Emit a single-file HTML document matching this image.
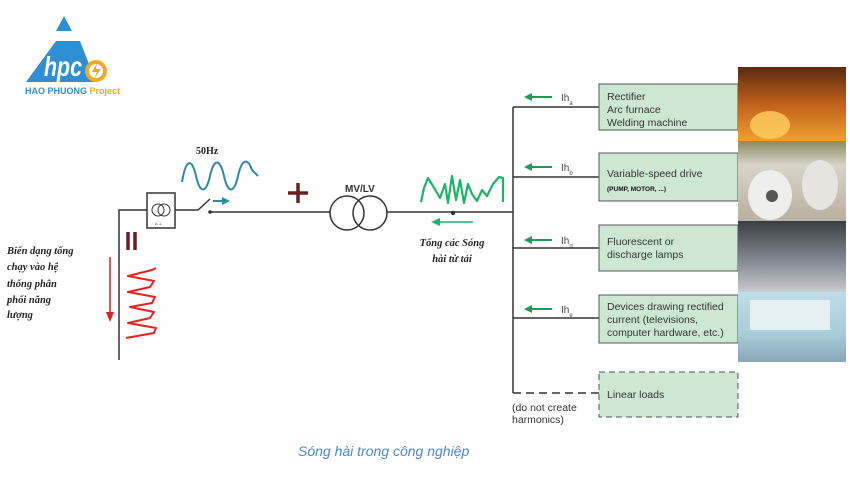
<!DOCTYPE html>
<html><head><meta charset="utf-8"><style>
html,body{margin:0;padding:0;background:#fff;}
svg{display:block;}
</style></head><body>
<svg width="850" height="480" viewBox="0 0 850 480" xmlns="http://www.w3.org/2000/svg" font-family="Liberation Sans, sans-serif">
<!-- Logo -->
<polygon points="64,16 56,31 72,31" fill="#2f8fd5"/>
<polygon points="26,82 56,41 80,41 96,82" fill="#2f8fd5"/>
<text x="44" y="76" font-size="28" font-weight="bold" font-style="italic" fill="#fff" textLength="38" lengthAdjust="spacingAndGlyphs">hpc</text>
<circle cx="96" cy="71" r="11" fill="#f2a91e"/>
<circle cx="96" cy="71" r="7" fill="#fff"/>
<path d="M97,63 L92,72 L97,72 L94,79 L101,69 L96,69 Z" fill="#f2a91e"/>
<text x="25" y="94" font-size="9" font-weight="bold" fill="#2f8fd5">HAO PHUONG <tspan fill="#f2a91e">Project</tspan></text>

<!-- wiring -->
<g stroke="#333" stroke-width="1.5" fill="none">
<path d="M119,360 V210 H147"/>
<rect x="147" y="193" width="28" height="35" stroke-width="1.5"/>
<circle cx="158" cy="210" r="6" stroke-width="1"/>
<circle cx="164" cy="210" r="6" stroke-width="1"/>
<path d="M175,210 H198 L210,199"/>
<path d="M210,212 H330"/>
<circle cx="347" cy="213" r="17"/>
<circle cx="370" cy="213" r="17"/>
<path d="M387,212 H513"/>
<path d="M513,107 V393"/>
<path d="M513,107 H599 M513,177 H599 M513,248 H599 M513,318 H599"/>
<path d="M513,393 H599" stroke-dasharray="8,5"/>
</g>
<circle cx="210" cy="212" r="1.8" fill="#333"/>
<circle cx="453" cy="213" r="2.2" fill="#333"/>
<text x="155" y="225" font-size="4" fill="#333">Δ ⊥</text>

<!-- 50Hz wave -->
<text x="196" y="154" font-size="10" font-weight="bold" font-family="Liberation Serif, serif" fill="#222">50Hz</text>
<path d="M182,182 C186,158 192,158 196,176 C200,194 206,194 210,176 C214,158 220,158 224,176 C228,194 234,194 238,176 C242,158 248,158 252,170 L258,176" stroke="#2a8aa8" stroke-width="2" fill="none"/>
<path d="M213,201 H222" stroke="#2a8aa8" stroke-width="2"/><polygon points="222,197 230,201 222,205" fill="#2a8aa8"/>
<!-- plus -->
<path d="M298,183 V203 M288,193 H308" stroke="#6b2020" stroke-width="3.5"/>
<text x="345" y="192" font-size="10" font-weight="bold" fill="#333">MV/LV</text>
<!-- equals -->
<path d="M128,232 V250 M135,232 V250" stroke="#6b2020" stroke-width="3.5"/>
<!-- red arrow and wave -->
<path d="M110,257 V315" stroke="#e02020" stroke-width="1.5"/><polygon points="106,312 114,312 110,322" fill="#e02020"/>
<path d="M156,268 L152,270 L128,276 L154,281 L150,287 L128,292 L155,297 L152,303 L130,307 L154,312 L150,318 L128,323 L156,328 L154,333 L126,338" stroke="#e82020" stroke-width="2" fill="none" stroke-linejoin="round"/>
<text font-size="10.5" font-weight="bold" font-style="italic" font-family="Liberation Serif, serif" fill="#222">
<tspan x="7" y="254">Biến dạng tổng</tspan><tspan x="7" y="270">chạy vào hệ</tspan><tspan x="7" y="287">thống phân</tspan><tspan x="7" y="303">phối năng</tspan><tspan x="7" y="318">lượng</tspan></text>

<!-- green wave -->
<path d="M421,202 L424,188 L428,178 L433,186 L440,198 L445,184 L448,203 L452,176 L456,200 L460,180 L464,203 L468,184 L472,194 L477,201 L482,190 L487,196 L493,184 L499,177 L503,178 L503,202" stroke="#1db36a" stroke-width="2.2" fill="none" stroke-linejoin="round"/>
<path d="M440,222 H473" stroke="#1db36a" stroke-width="1.5"/><polygon points="440,218 431,222 440,226" fill="#1db36a"/>
<text font-size="10.5" font-weight="bold" font-style="italic" font-family="Liberation Serif, serif" fill="#222" text-anchor="middle">
<tspan x="452" y="246">Tổng các Sóng</tspan><tspan x="452" y="262">hài từ tải</tspan></text>

<!-- Ih arrows -->
<g fill="#1a9a55" stroke="#1a9a55" stroke-width="2">
<path d="M532,97 H552"/><polygon points="532,93 524,97 532,101" stroke="none"/>
<path d="M532,167 H552"/><polygon points="532,163 524,167 532,171" stroke="none"/>
<path d="M532,240 H552"/><polygon points="532,236 524,240 532,244" stroke="none"/>
<path d="M532,309 H552"/><polygon points="532,305 524,309 532,313" stroke="none"/>
</g>
<g font-size="10" fill="#444">
<text x="561" y="101">Ih<tspan font-size="6" dy="4">a</tspan></text>
<text x="561" y="171">Ih<tspan font-size="6" dy="4">b</tspan></text>
<text x="561" y="244">Ih<tspan font-size="6" dy="4">d</tspan></text>
<text x="561" y="313">Ih<tspan font-size="6" dy="4">e</tspan></text>
</g>

<!-- boxes -->
<g fill="#cde8d2" stroke="#555" stroke-width="1">
<rect x="599" y="84" width="139" height="46"/>
<rect x="599" y="153" width="139" height="48"/>
<rect x="599" y="225" width="139" height="46"/>
<rect x="599" y="295" width="139" height="48"/>
<rect x="599" y="372" width="139" height="45" stroke-dasharray="6,4"/>
</g>
<g font-size="10.5" fill="#333">
<text x="607" y="100">Rectifier</text><text x="607" y="113">Arc furnace</text><text x="607" y="126">Welding machine</text>
<text x="607" y="177">Variable-speed drive</text>
<text x="607" y="191" font-size="6.5" font-weight="bold" fill="#111">(PUMP, MOTOR, ...)</text>
<text x="607" y="245">Fluorescent or</text><text x="607" y="258">discharge lamps</text>
<text x="607" y="310">Devices drawing rectified</text><text x="607" y="323">current (televisions,</text><text x="607" y="336">computer hardware, etc.)</text>
<text x="607" y="398">Linear loads</text>
<text x="512" y="411">(do not create</text><text x="512" y="423">harmonics)</text>
</g>

<!-- photos -->
<defs>
<linearGradient id="p1" x1="0" y1="0" x2="0" y2="1"><stop offset="0" stop-color="#5a2a10"/><stop offset="0.5" stop-color="#c0601a"/><stop offset="1" stop-color="#f0a030"/></linearGradient>
<linearGradient id="p2" x1="0" y1="0" x2="0" y2="1"><stop offset="0" stop-color="#8a8a60"/><stop offset="0.3" stop-color="#d8d4c8"/><stop offset="1" stop-color="#b8b0a0"/></linearGradient>
<linearGradient id="p3" x1="0" y1="0" x2="0" y2="1"><stop offset="0" stop-color="#3a3e44"/><stop offset="0.6" stop-color="#8a9098"/><stop offset="1" stop-color="#c8ccd0"/></linearGradient>
<linearGradient id="p4" x1="0" y1="0" x2="0" y2="1"><stop offset="0" stop-color="#c0dde8"/><stop offset="0.6" stop-color="#a8ccd8"/><stop offset="1" stop-color="#8aa8b8"/></linearGradient>
</defs>
<rect x="738" y="67" width="108" height="74" fill="url(#p1)"/>
<ellipse cx="770" cy="125" rx="20" ry="14" fill="#ffd060" opacity="0.8"/>
<rect x="738" y="141" width="108" height="80" fill="url(#p2)"/>
<ellipse cx="770" cy="195" rx="22" ry="25" fill="#eeeeea"/><circle cx="772" cy="196" r="6" fill="#555"/>
<ellipse cx="820" cy="185" rx="18" ry="25" fill="#e6e4de"/>
<rect x="738" y="221" width="108" height="71" fill="url(#p3)"/>
<rect x="738" y="292" width="108" height="70" fill="url(#p4)"/>
<rect x="750" y="300" width="80" height="30" fill="#e4f0f4"/>

<text x="298" y="456" font-size="14" font-style="italic" fill="#4a88c8">Sóng hài trong công nghiệp</text>
</svg>
</body></html>
